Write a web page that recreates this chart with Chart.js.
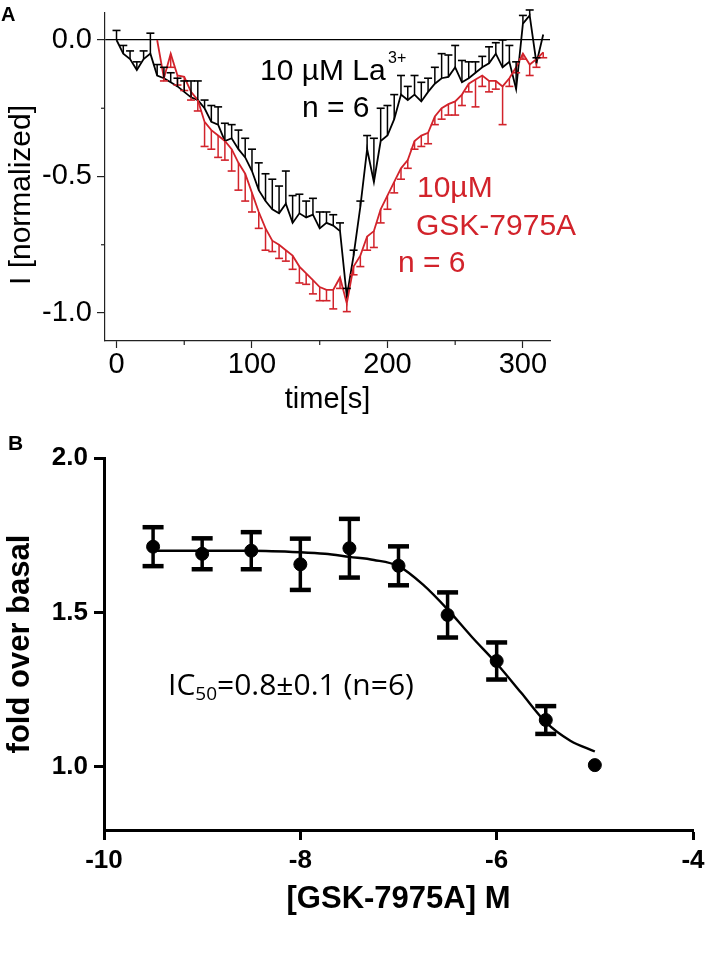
<!DOCTYPE html>
<html><head><meta charset="utf-8">
<script src="https://cdn.jsdelivr.net/npm/chart.js@4.4.0/dist/chart.umd.min.js"></script>
<style>
html,body{margin:0;padding:0;background:#fff;}
#wrap{position:relative;width:708px;height:955px;overflow:hidden;background:#fff;}
#cA{position:absolute;left:0;top:0;}
#cB{position:absolute;left:0;top:400px;}
</style></head><body>
<div id="wrap"><canvas id="cA" width="708" height="430"></canvas><canvas id="cB" width="708" height="555"></canvas></div>
<script>
// ---------- Panel A data ----------
const timeLa = [0,5,10,15,20,25,30,35,40,45,50,55,60,65,70,75,80,85,90,95,100,105,110,115,120,125,130,135,140,145,150,155,160,165,170,175,180,185,190,195,200,205,210,215,220,225,230,235,240,245,250,255,260,265,270,275,280,285,290,295,300,305,310,315];
const laMean = [0.00,-0.05,-0.07,-0.11,-0.07,-0.05,-0.13,-0.14,-0.155,-0.17,-0.19,-0.21,-0.22,-0.25,-0.30,-0.31,-0.37,-0.36,-0.40,-0.43,-0.48,-0.55,-0.59,-0.62,-0.635,-0.60,-0.67,-0.635,-0.65,-0.64,-0.69,-0.67,-0.68,-0.70,-0.94,-0.79,-0.61,-0.40,-0.52,-0.37,-0.35,-0.29,-0.20,-0.22,-0.20,-0.225,-0.19,-0.16,-0.14,-0.135,-0.10,-0.155,-0.14,-0.12,-0.10,-0.085,-0.05,-0.10,-0.08,-0.18,0.06,0.09,-0.085,0.02];
const laErr = [0.035,0.03,0.03,0.03,0.03,0.075,0.04,0.04,0.035,0.03,0.04,0.06,0.07,0.03,0.06,0.065,0.065,0.05,0.07,0.07,0.08,0.10,0.10,0.11,0.10,0.12,0.10,0.07,0.06,0.06,0.06,0.04,0.04,0.03,0.03,0.02,0.02,0.05,0.16,0.12,0.11,0.09,0.07,0.05,0.07,0.07,0.05,0.06,0.09,0.08,0.08,0.08,0.06,0.04,0.04,0.06,0.04,0.10,0.06,0.10,0.03,0.02,0.02,0.0];
const timeGsk = [30,35,40,45,50,55,60,65,70,75,80,85,90,95,100,105,110,115,120,125,130,135,140,145,150,155,160,165,170,175,180,185,190,195,200,205,210,215,220,225,230,235,240,245,250,255,260,265,270,275,280,285,290,295,300,305,310,315];
const gskMean = [0.00,-0.14,-0.05,-0.13,-0.135,-0.19,-0.22,-0.30,-0.33,-0.35,-0.37,-0.40,-0.45,-0.49,-0.56,-0.63,-0.69,-0.735,-0.75,-0.77,-0.79,-0.83,-0.855,-0.88,-0.905,-0.915,-0.915,-0.87,-0.965,-0.83,-0.79,-0.72,-0.70,-0.62,-0.57,-0.52,-0.47,-0.44,-0.37,-0.35,-0.34,-0.28,-0.25,-0.235,-0.225,-0.20,-0.16,-0.145,-0.13,-0.15,-0.15,-0.17,-0.14,-0.10,-0.05,-0.09,-0.07,-0.045];
const gskErr = [0.0,0.01,0.05,0.035,0.05,0.03,0.04,0.09,0.07,0.08,0.07,0.08,0.10,0.10,0.07,0.06,0.08,0.04,0.05,0.04,0.05,0.06,0.04,0.05,0.05,0.04,0.07,0.04,0.03,0.03,0.04,0.05,0.06,0.05,0.05,0.04,0.04,0.03,0.03,0.04,0.04,0.03,0.04,0.04,0.05,0.04,0.03,0.10,0.04,0.04,0.03,0.14,0.03,0.02,0.02,0.04,0.03,0.02];
const ticksAX = [0,100,200,300];
const ticksAY = [-1.0,-0.5,0.0];
const minorAX = [50,150,250];
const minorAY = [-0.75,-0.25];

// ---------- Panel B data ----------
const logConc = [-9.5,-9,-8.5,-8,-7.5,-7,-6.5,-6,-5.5,-5];
const foldMean = [1.713,1.69,1.70,1.656,1.708,1.651,1.492,1.343,1.152,1.006];
const foldErr = [0.063,0.05,0.06,0.083,0.095,0.063,0.073,0.06,0.045,0.0];
const fitX = [-9.5,-9,-8.5,-8,-7.75,-7.5,-7.25,-7,-6.75,-6.5,-6.25,-6,-5.75,-5.5,-5.25,-5];
const fitY = [1.70,1.70,1.70,1.695,1.69,1.68,1.67,1.65,1.59,1.51,1.42,1.335,1.24,1.145,1.085,1.05];
const ticksBX = [-10,-8,-6,-4];
const ticksBY = [1.0,1.5,2.0];

// ---------- Texts ----------
const panelA = 'A', panelB = 'B';
const titleAX = 'time[s]', titleAY = 'I [normalized]';
const titleBX = '[GSK-7975A] M', titleBY = 'fold over basal';
const laLabel = '10 µM La', laSup = '3+', laN = 'n = 6';
const gskLine1 = '10µM', gskLine2 = 'GSK-7975A', gskN = 'n = 6';
const icPre = 'IC', icSub = '50', icPost = '=0.8±0.1 (n=6)';

const RED = '#d2232b';
const AXIS = '#222';
const FA = '"Liberation Sans", Arial, Helvetica, sans-serif';
const FO = '"Open Sans", "Noto Sans", sans-serif';

const zeroPad = s => { s.paddingTop = 0; s.paddingBottom = 0; s.paddingLeft = 0; s.paddingRight = 0; };

const errorBarPlugin = {
  id: 'errorBars',
  afterDatasetsDraw(chart) {
    const ctx = chart.ctx;
    chart.data.datasets.forEach((ds, i) => {
      if (!ds.errorBars) return;
      const meta = chart.getDatasetMeta(i);
      const ys = chart.scales[meta.yAxisID];
      ctx.save();
      ctx.strokeStyle = ds.errorColor;
      meta.data.forEach((el, j) => {
        const e = ds.errorBars[j];
        if (!e) return;
        const v = ds.data[j].y;
        const dirs = ds.errorDir === 'both' ? [1, -1] : [ds.errorDir === 'up' ? 1 : -1];
        dirs.forEach(d => {
          const ye = ys.getPixelForValue(v + d * e);
          ctx.lineWidth = ds.errorWidth;
          ctx.beginPath(); ctx.moveTo(el.x, el.y); ctx.lineTo(el.x, ye); ctx.stroke();
          ctx.lineWidth = ds.errorCapWidth;
          ctx.beginPath(); ctx.moveTo(el.x - ds.errorCap / 2, ye); ctx.lineTo(el.x + ds.errorCap / 2, ye); ctx.stroke();
        });
      });
      ctx.restore();
    });
  }
};

const minorTicksA = {
  id: 'minorTicksA',
  afterDraw(chart) {
    const ctx = chart.ctx, xs = chart.scales.x, ys = chart.scales.y, ca = chart.chartArea;
    ctx.save();
    ctx.strokeStyle = AXIS; ctx.lineWidth = 1.2;
    minorAX.forEach(v => { const p = xs.getPixelForValue(v); ctx.beginPath(); ctx.moveTo(p, ca.bottom); ctx.lineTo(p, ca.bottom + 4); ctx.stroke(); });
    minorAY.forEach(v => { const p = ys.getPixelForValue(v); ctx.beginPath(); ctx.moveTo(ca.left, p); ctx.lineTo(ca.left - 4, p); ctx.stroke(); });
    ctx.restore();
  }
};

const textA = {
  id: 'textA',
  afterDraw(chart) {
    const ctx = chart.ctx;
    ctx.save();
    ctx.textBaseline = 'alphabetic'; ctx.textAlign = 'left';
    ctx.fillStyle = '#000';
    ctx.font = 'bold 20px ' + FA; ctx.fillText(panelA, 1, 21);
    ctx.font = '30px ' + FA;
    ctx.fillText(laLabel, 260, 80);
    ctx.fillText(laN, 302, 117);
    ctx.font = '16px ' + FA; ctx.fillText(laSup, 388, 63);
    ctx.fillStyle = RED; ctx.font = '30px ' + FA;
    ctx.fillText(gskLine1, 417, 197);
    ctx.fillText(gskLine2, 416, 235);
    ctx.fillText(gskN, 398, 272);
    // y title
    ctx.fillStyle = '#000'; ctx.font = '30px ' + FA;
    ctx.translate(30, 195); ctx.rotate(-Math.PI / 2);
    ctx.textAlign = 'center'; ctx.fillText(titleAY, 0, 0);
    ctx.restore();
  }
};

const textB = {
  id: 'textB',
  afterDraw(chart) {
    const ctx = chart.ctx;
    ctx.save();
    ctx.fillStyle = '#000'; ctx.textBaseline = 'alphabetic'; ctx.textAlign = 'left';
    ctx.font = 'bold 21px ' + FA; ctx.fillText(panelB, 8, 50);
    let x = 168; const y = 295;
    ctx.font = '30px ' + FO; ctx.fillText(icPre, x, y); x += ctx.measureText(icPre).width;
    ctx.font = '19px ' + FO; ctx.fillText(icSub, x, y + 5); x += ctx.measureText(icSub).width;
    ctx.font = '30px ' + FO; ctx.fillText(icPost, x, y);
    ctx.restore();
  }
};

new Chart(document.getElementById('cA'), {
  type: 'scatter',
  data: { datasets: [
    { label: gskLine1 + ' ' + gskLine2, data: timeGsk.map((t, i) => ({ x: t, y: gskMean[i] })), showLine: true,
      borderColor: RED, backgroundColor: RED, borderWidth: 1.8, pointRadius: 0, tension: 0,
      errorBars: gskErr, errorDir: 'down', errorColor: RED, errorCap: 8, errorWidth: 1.5, errorCapWidth: 1.6 },
    { label: laLabel + laSup, data: timeLa.map((t, i) => ({ x: t, y: laMean[i] })), showLine: true,
      borderColor: '#000', backgroundColor: '#000', borderWidth: 1.8, pointRadius: 0, tension: 0,
      errorBars: laErr, errorDir: 'up', errorColor: '#000', errorCap: 8, errorWidth: 1.5, errorCapWidth: 1.6 }
  ]},
  options: {
    responsive: false, animation: false, devicePixelRatio: 1,
    layout: { padding: { left: 0, right: 158, top: 13, bottom: 0 } },
    plugins: { legend: { display: false }, tooltip: { enabled: false } },
    scales: {
      x: { type: 'linear', min: -8.5, max: 320,
        afterBuildTicks: s => { s.ticks = ticksAX.map(v => ({ value: v })); },
        afterFit: s => { s.height = 89; zeroPad(s); },
        border: { display: true, color: AXIS, width: 1.2 },
        grid: { display: true, drawOnChartArea: false, drawTicks: true, tickLength: 7, tickColor: AXIS, tickWidth: 1.2 },
        ticks: { color: '#000', font: { family: FA, size: 29 }, padding: 0, maxRotation: 0, autoSkip: false, callback: v => String(v) },
        title: { display: true, text: titleAX, color: '#000', font: { family: FA, size: 29 }, padding: { top: 0, bottom: 13 } }
      },
      y: { type: 'linear', min: -1.1026, max: 0.0989,
        afterBuildTicks: s => { s.ticks = ticksAY.map(v => ({ value: v })); },
        afterFit: s => { s.width = 105; zeroPad(s); },
        border: { display: true, color: AXIS, width: 1.2 },
        grid: { display: true, drawOnChartArea: true, drawTicks: true, tickLength: 8, tickColor: AXIS, tickWidth: 1.2,
          color: c => (c.tick && c.tick.value === 0) ? '#000' : 'rgba(0,0,0,0)', lineWidth: 1.2 },
        ticks: { color: '#000', font: { family: FA, size: 29 }, padding: 5, autoSkip: false, callback: v => Number(v).toFixed(1) }
      }
    }
  },
  plugins: [errorBarPlugin, minorTicksA, textA]
});

new Chart(document.getElementById('cB'), {
  type: 'scatter',
  data: { datasets: [
    { label: 'fit', data: fitX.map((t, i) => ({ x: t, y: fitY[i] })), showLine: true,
      borderColor: '#000', borderWidth: 2.4, pointRadius: 0, cubicInterpolationMode: 'monotone' },
    { label: 'fold over basal', data: logConc.map((t, i) => ({ x: t, y: foldMean[i] })), showLine: false,
      pointRadius: 6.5, pointBackgroundColor: '#000', pointBorderColor: '#000',
      errorBars: foldErr, errorDir: 'both', errorColor: '#000', errorCap: 21, errorWidth: 3.5, errorCapWidth: 4.5 }
  ]},
  options: {
    responsive: false, animation: false, devicePixelRatio: 1,
    layout: { padding: { left: 0, right: 15, top: 58, bottom: 0 } },
    plugins: { legend: { display: false }, tooltip: { enabled: false } },
    scales: {
      x: { type: 'linear', min: -10, max: -4,
        afterBuildTicks: s => { s.ticks = ticksBX.map(v => ({ value: v })); },
        afterFit: s => { s.height = 125; zeroPad(s); },
        border: { display: true, color: '#000', width: 3 },
        grid: { display: true, drawOnChartArea: false, drawTicks: true, tickLength: 10, tickColor: '#000', tickWidth: 3 },
        ticks: { color: '#000', font: { family: FA, size: 26, weight: 'bold' }, padding: 5, maxRotation: 0, autoSkip: false, callback: v => String(v) },
        title: { display: true, text: titleBX, color: '#000', font: { family: FA, size: 31, weight: 'bold' }, padding: { top: 0, bottom: 37 } }
      },
      y: { type: 'linear', min: 0.796, max: 2.0,
        afterBuildTicks: s => { s.ticks = ticksBY.map(v => ({ value: v })); },
        afterFit: s => { s.width = 104; zeroPad(s); },
        border: { display: true, color: '#000', width: 3 },
        grid: { display: true, drawOnChartArea: false, drawTicks: true, tickLength: 10, tickColor: '#000', tickWidth: 3 },
        ticks: { color: '#000', font: { family: FA, size: 26, weight: 'bold' }, padding: 6, autoSkip: false, callback: v => Number(v).toFixed(1) },
        title: { display: true, text: titleBY, color: '#000', font: { family: FA, size: 31, weight: 'bold' }, padding: { top: 1.5, bottom: 0 } }
      }
    }
  },
  plugins: [errorBarPlugin, textB]
});
</script></body></html>
